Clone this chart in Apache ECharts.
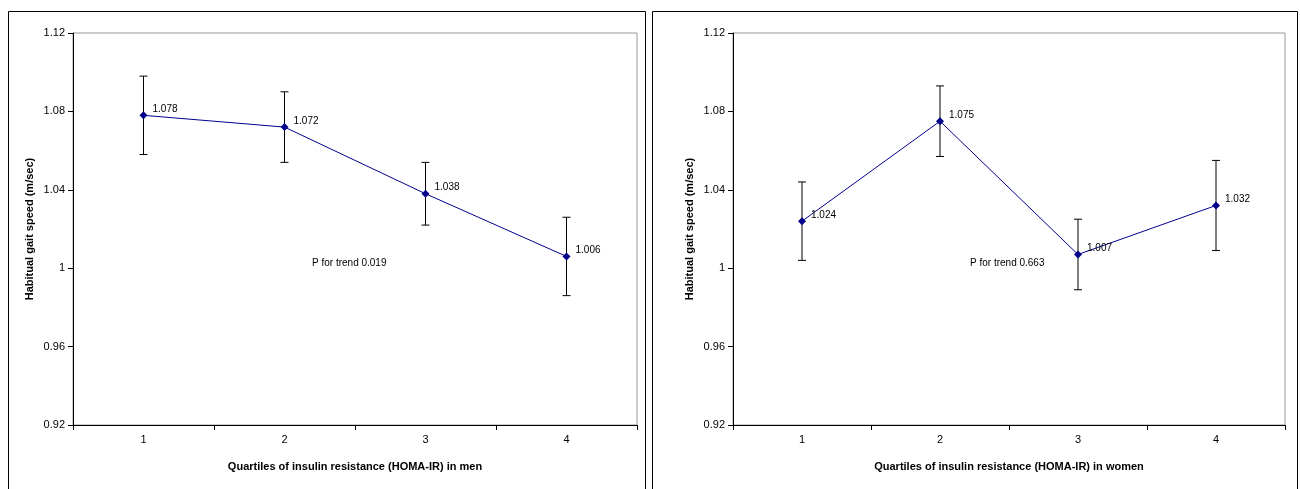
<!DOCTYPE html>
<html><head><meta charset="utf-8">
<script src="https://cdn.jsdelivr.net/npm/echarts@6/dist/echarts.min.js"></script>
</head>
<body style="margin:0;padding:0;background:#fff">
<div id="chart" style="width:1300px;height:489px"></div>
<script>
const quartiles = ['1', '2', '3', '4']
const menMean = [1.078, 1.072, 1.038, 1.006]
const menLow = [1.058, 1.054, 1.022, 0.986]
const menHigh = [1.098, 1.090, 1.054, 1.026]
const womenMean = [1.024, 1.075, 1.007, 1.032]
const womenLow = [1.004, 1.057, 0.989, 1.009]
const womenHigh = [1.044, 1.093, 1.025, 1.055]

const font = 'Liberation Sans, Arial, sans-serif'

function errorSeries(idx, low, high) {
  return {
    type: 'custom', xAxisIndex: idx, yAxisIndex: idx, z: 1,
    data: low.map((l, i) => [i, l, high[i]]),
    renderItem: (params, api) => {
      const a = api.coord([api.value(0), api.value(1)])
      const b = api.coord([api.value(0), api.value(2)])
      const w = 4
      const st = { stroke: '#000', lineWidth: 1 }
      return { type: 'group', children: [
        { type: 'line', shape: { x1: a[0], y1: a[1], x2: b[0], y2: b[1] }, style: st },
        { type: 'line', shape: { x1: a[0] - w, y1: a[1], x2: a[0] + w, y2: a[1] }, style: st },
        { type: 'line', shape: { x1: b[0] - w, y1: b[1], x2: b[0] + w, y2: b[1] }, style: st }
      ] }
    }
  }
}

function lineSeries(idx, vals) {
  return {
    type: 'line', xAxisIndex: idx, yAxisIndex: idx, z: 3,
    data: vals.map(v => v.toFixed(3)),
    symbol: 'diamond', symbolSize: 8,
    itemStyle: { color: '#00008b' },
    lineStyle: { color: '#00008b', width: 1 },
    label: { show: true, position: 'right', offset: [0, -6], fontSize: 10, fontFamily: font, color: '#000',
      formatter: p => Number(p.value).toFixed(3) }
  }
}

function xAxis(idx, name) {
  return {
    type: 'category', gridIndex: idx, data: quartiles, boundaryGap: true,
    name: name, nameLocation: 'middle', nameGap: 36,
    nameTextStyle: { fontWeight: 'bold', fontSize: 11, fontFamily: font, color: '#000' },
    axisLine: { lineStyle: { color: '#000' } },
    axisTick: { show: true, alignWithLabel: false, lineStyle: { color: '#000' } },
    axisLabel: { fontSize: 11, fontFamily: font, color: '#000', margin: 9 }
  }
}

function yAxis(idx) {
  return {
    type: 'value', gridIndex: idx, min: 0.92, max: 1.12, interval: 0.04,
    name: 'Habitual gait speed (m/sec)', nameLocation: 'middle', nameGap: 38,
    nameTextStyle: { fontWeight: 'bold', fontSize: 11, fontFamily: font, color: '#000' },
    axisLine: { show: true, lineStyle: { color: '#000' } },
    axisTick: { show: true, lineStyle: { color: '#000' } },
    splitLine: { show: false },
    axisLabel: { fontSize: 11, fontFamily: font, color: '#000',
      formatter: v => String(parseFloat(v.toFixed(2))) }
  }
}

const chart = echarts.init(document.getElementById('chart'))
chart.setOption({
  animation: false,
  grid: [
    { left: 73, right: 663, top: 33, bottom: 64, show: true, borderColor: '#999', borderWidth: 1 },
    { left: 733, right: 15, top: 33, bottom: 64, show: true, borderColor: '#999', borderWidth: 1 }
  ],
  xAxis: [xAxis(0, 'Quartiles of insulin resistance (HOMA-IR) in men'),
          xAxis(1, 'Quartiles of insulin resistance (HOMA-IR) in women')],
  yAxis: [yAxis(0), yAxis(1)],
  series: [
    errorSeries(0, menLow, menHigh), lineSeries(0, menMean),
    errorSeries(1, womenLow, womenHigh), lineSeries(1, womenMean)
  ],
  graphic: [
    { type: 'rect', shape: { x: 8.5, y: 11.5, width: 637, height: 490 }, style: { fill: 'none', stroke: '#000', lineWidth: 1 } },
    { type: 'rect', shape: { x: 652.5, y: 11.5, width: 645, height: 490 }, style: { fill: 'none', stroke: '#000', lineWidth: 1 } },
    { type: 'text', x: 312, y: 258, style: { text: 'P for trend 0.019', fontSize: 10, fontFamily: font, fill: '#000' } },
    { type: 'text', x: 970, y: 258, style: { text: 'P for trend 0.663', fontSize: 10, fontFamily: font, fill: '#000' } }
  ]
})
</script>
</body></html>
